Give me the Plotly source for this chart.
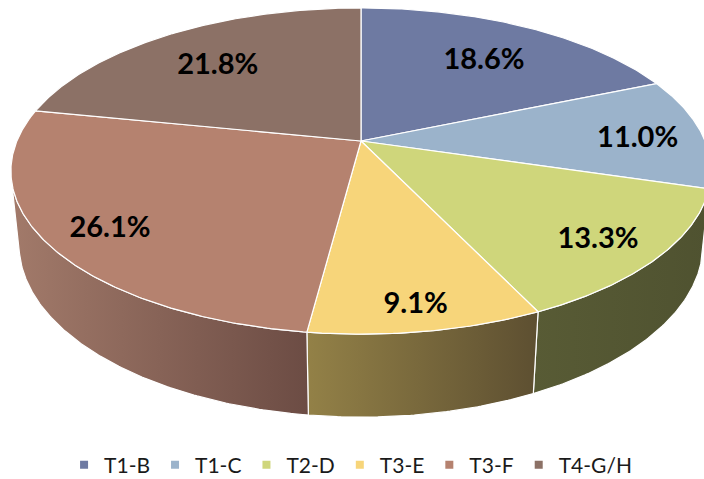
import numpy as np
import plotly.graph_objects as go

# ---- data ----
categories = ["T1-B", "T1-C", "T2-D", "T3-E", "T3-F", "T4-G/H"]
shares = [18.6, 11.0, 13.3, 9.1, 26.1, 21.8]

# ---- styles ----
top_colors = ["#6E7AA2", "#9BB3CB", "#CFD67B", "#F7D57A", "#B5826F", "#8C7166"]
side_colors = [
    ("#596286", "#464d6b"),
    ("#7d90a4", "#62718a"),
    ("#585b35", "#4f5230"),
    ("#938147", "#5d4f31"),
    ("#a27a6a", "#6c4c44"),
    ("#7a6157", "#5e4a42"),
]

# ---- projection (perspective view of a cylinder) ----
W, Hpx = 704, 479
CX, CY = 361.0, 141.0
SIN_E = 0.458
COS_E = float(np.sqrt(1 - SIN_E ** 2))
DIST = 4.83
FOC = 1662.0
DEPTH = 0.242


def project(theta_deg, r, z):
    t = np.radians(theta_deg)
    u = r * np.sin(t)
    v = r * np.cos(t)
    den = DIST + v * COS_E - z * SIN_E
    X = CX + FOC * u / den
    Y = CY - FOC * (v * SIN_E + z * COS_E) / den
    return X, Y


total = sum(shares)
bounds = np.concatenate([[0.0], np.cumsum(shares) / total * 360.0])

th_vis = np.degrees(np.arccos(-1.0 / (DIST * COS_E)))
vis_lo, vis_hi = th_vis, 360.0 - th_vis

fig = go.Figure()

# side walls
for i in range(len(shares)):
    a, b = max(bounds[i], vis_lo), min(bounds[i + 1], vis_hi)
    if b <= a:
        continue
    th = np.linspace(a, b, max(8, int((b - a) * 2)))
    xt, yt = project(th, 1.0, 0.0)
    xb, yb = project(th[::-1], 1.0, -DEPTH)
    xs = np.concatenate([xt, xb, xt[:1]])
    ys = np.concatenate([yt, yb, yt[:1]])
    fig.add_trace(go.Scatter(
        x=xs, y=ys, mode="lines", fill="toself",
        line=dict(color="white", width=1.2),
        fillgradient=dict(type="horizontal",
                          colorscale=[[0, side_colors[i][0]], [1, side_colors[i][1]]]),
        hoverinfo="skip", showlegend=False))

# top faces
for i in range(len(shares)):
    a, b = bounds[i], bounds[i + 1]
    th = np.linspace(a, b, max(8, int((b - a) * 2)))
    xt, yt = project(th, 1.0, 0.0)
    x0, y0 = project(0.0, 0.0, 0.0)
    xs = np.concatenate([[x0], xt, [x0]])
    ys = np.concatenate([[y0], yt, [y0]])
    fig.add_trace(go.Scatter(
        x=xs, y=ys, mode="lines", fill="toself", fillcolor=top_colors[i],
        line=dict(color="white", width=1.2),
        hoverinfo="skip", showlegend=False))

# data labels
mids = (bounds[:-1] + bounds[1:]) / 2
cosm = np.cos(np.radians(mids))
rl = 0.70 + 0.12 * np.minimum(1.0, 1.0 - cosm) + 0.04 * np.clip(-cosm - 0.8, 0, None) / 0.2
lx, ly = project(mids, rl, -0.02)
fig.add_trace(go.Scatter(
    x=lx, y=ly, mode="text",
    text=[f"{s:.1f}%" for s in shares],
    textfont=dict(family="Lato", size=29, color="black", weight="bold"),
    hoverinfo="skip", showlegend=False))

# legend entries
for i, c in enumerate(categories):
    fig.add_trace(go.Scatter(
        x=[None], y=[None], mode="markers", name=c,
        marker=dict(symbol="square", size=8, color=top_colors[i])))

fig.update_layout(
    width=W, height=Hpx, autosize=False,
    margin=dict(l=0, r=0, t=0, b=0, autoexpand=False),
    paper_bgcolor="white", plot_bgcolor="white",
    xaxis=dict(range=[0, W], visible=False, fixedrange=True),
    yaxis=dict(range=[Hpx, 0], visible=False, fixedrange=True),
    legend=dict(orientation="h", x=0.091, xanchor="left", y=0.029, yanchor="middle",
                itemwidth=30,
                font=dict(family="Lato", size=21, color="#1a1a1a"),
                bgcolor="rgba(0,0,0,0)"),
    showlegend=True,
)

fig.write_html("out.html", config={"displayModeBar": False},
               post_script="document.body.style.margin='0';document.body.style.overflow='hidden';")
